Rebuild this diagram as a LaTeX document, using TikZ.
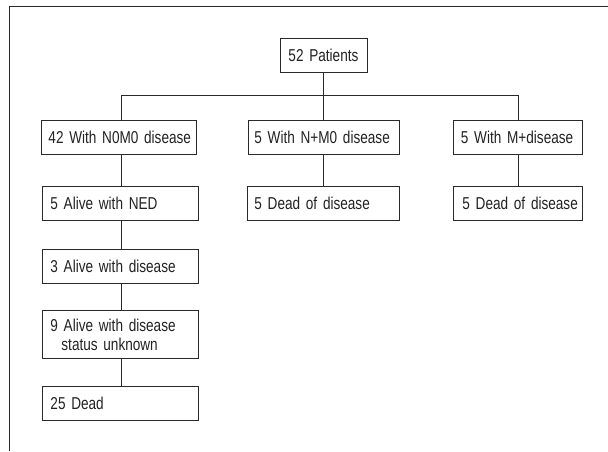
\documentclass[tikz,border=0pt]{standalone}
\usepackage{fontspec}
\setmainfont{Liberation Sans}[FakeStretch=0.79]
\definecolor{linec}{HTML}{2A2A2A}
\definecolor{txt}{HTML}{222222}
\begin{document}
\begin{tikzpicture}[x=1pt,y=-1pt,
  box/.style={draw=linec, line width=0.9pt, anchor=north west, inner xsep=7pt, inner ysep=0pt,
    minimum height=34pt, text height=12.3pt, text depth=0pt, align=left,
    font=\fontsize{17.2}{19.3}\selectfont, text=txt},
  conn/.style={draw=linec, line width=0.9pt},
  frameline/.style={draw=linec, line width=1pt}]
\useasboundingbox (0,0) rectangle (608,451);
\draw[frameline] (608,6) -- (9,6) -- (9,451);

\node[box, align=center, text width=73pt] (pat) at (279.5,38) {\mbox{52 Patients}};

\node[box, text width=141pt] (A) at (41,120) {\mbox{42 With N0M0 disease}};
\node[box, inner xsep=6pt, text width=139pt] (B) at (248,120) {\mbox{5 With N+M0 disease}};
\node[box, inner xsep=7.5pt, text width=114pt] (C) at (453,120) {\mbox{5 With M+disease}};

\node[box, inner xsep=8pt, text width=140pt] (A1) at (42,186) {\mbox{5 Alive with NED}};
\node[box, text width=138pt] (B1) at (247,186) {\mbox{5 Dead of disease}};
\node[box, inner xsep=9pt, text width=111pt] (C1) at (453,186) {\mbox{5 Dead of disease}};

\node[box, inner xsep=8pt, text width=140pt] (A2) at (42,249) {\mbox{3 Alive with disease}};
\node[box, inner xsep=8pt, text width=140pt, minimum height=48pt, text depth=19pt] (A3) at (42,310)
  {9 Alive with disease\\\hspace*{11pt}status unknown};
\node[box, inner xsep=8pt, text width=140pt] (A4) at (42,386) {\mbox{25 Dead}};

\draw[conn] (pat.south) -- ++(0,22.5) coordinate (jc);
\draw[conn] ([xshift=2.5pt]A.north) |- (jc) -| (C.north);
\draw[conn] (jc) -- (jc |- B.north);
\draw[conn] ([xshift=1pt]A1.north) -- ([xshift=1pt]A1.north |- A.south);
\draw[conn] ([xshift=1pt]A1.south) -- ([xshift=1pt]A2.north);
\draw[conn] ([xshift=1pt]A2.south) -- ([xshift=1pt]A3.north);
\draw[conn] ([xshift=1pt]A3.south) -- ([xshift=1pt]A4.north);
\draw[conn] (B1.north) -- (B1.north |- B.south);
\draw[conn] (C.south) -- (C1.north);
\end{tikzpicture}
\end{document}
